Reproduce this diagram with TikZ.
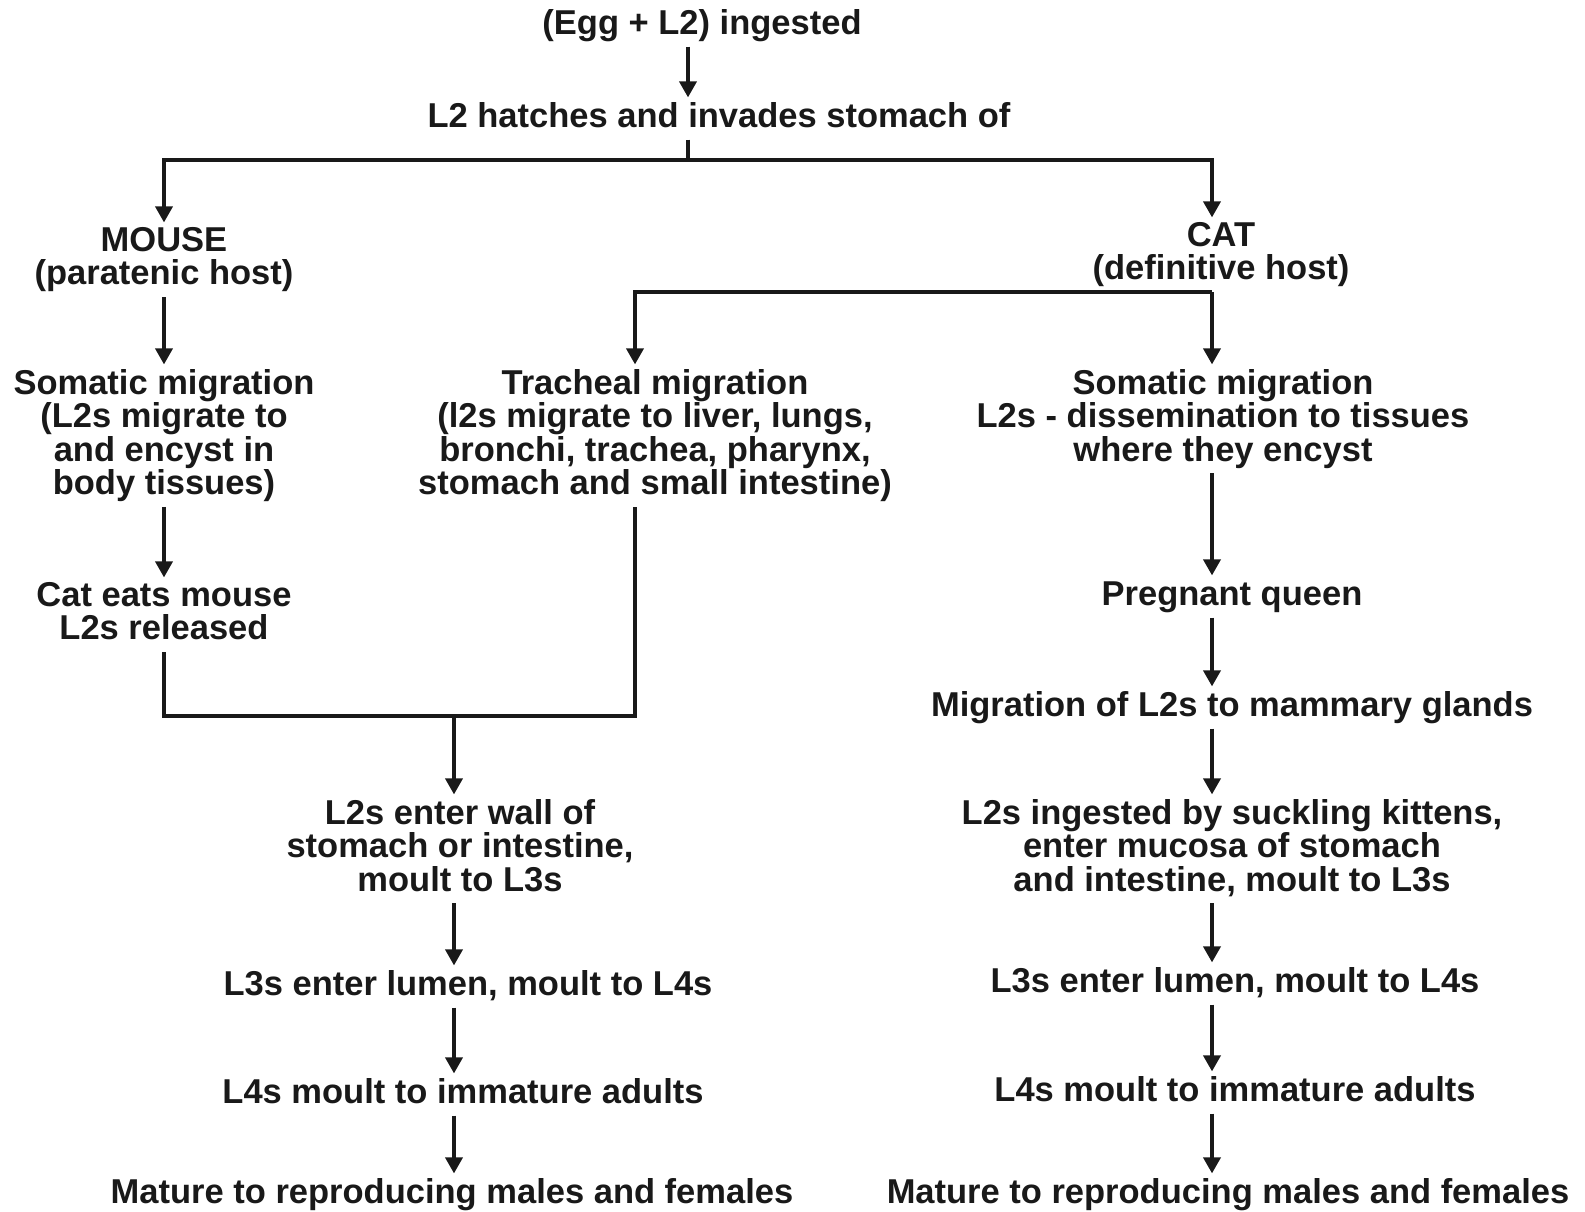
\documentclass[tikz,border=0pt]{standalone}
\usepackage{fontspec}
\setmainfont{Liberation Sans}
\usetikzlibrary{arrows.meta}
\tikzset{
  lbl/.style={align=center, inner sep=0pt, outer sep=5pt, anchor=north,
    font=\fontsize{34.5}{33.4}\selectfont\bfseries, text=black!90,
    execute at begin node={\vphantom{(}}, execute at end node={\vphantom{(}}},
  ln/.style={line width=3.6pt, draw=black!90},
  arr/.style={ln, -{Triangle[width=17pt,length=16pt]}}
}
\begin{document}
\begin{tikzpicture}[x=1pt,y=-1pt]
\useasboundingbox[fill=white] (0,0) rectangle (1585,1211);
% x positions of the vertical connectors
\coordinate (xM) at (688,0);
\coordinate (xL) at (164,0);
\coordinate (xR) at (1212,0);
\coordinate (xT) at (635,0);
\coordinate (xC) at (454,0);
\coordinate (br) at (688,160);
\coordinate (mg) at (454,716);
% nodes
\node[lbl] (egg) at (702,4.4) {(Egg + L2) ingested};
\node[lbl] (hatch) at (719,97.4) {L2 hatches and invades stomach of};
\node[lbl] (mouse) at (164,222.4) {MOUSE\\(paratenic host)};
\node[lbl] (cat) at (1221,217.4) {CAT\\(definitive host)};
\node[lbl] (lsom) at (164,364.4) {Somatic migration\\(L2s migrate to\\and encyst in\\body tissues)};
\node[lbl] (trach) at (655,364.4) {Tracheal migration\\(l2s migrate to liver, lungs,\\bronchi, trachea, pharynx,\\stomach and small intestine)};
\node[lbl] (rsom) at (1223,364.4) {Somatic migration\\L2s - dissemination to tissues\\where they encyst};
\node[lbl] (cem) at (164,577.4) {Cat eats mouse\\L2s released};
\node[lbl] (wall) at (460,794.4) {L2s enter wall of\\stomach or intestine,\\moult to L3s};
\node[lbl] (preg) at (1232,575.4) {Pregnant queen};
\node[lbl] (mam) at (1232,686.4) {Migration of L2s to mammary glands};
\node[lbl] (kit) at (1232,794.4) {L2s ingested by suckling kittens,\\enter mucosa of stomach\\and intestine, moult to L3s};
\node[lbl] (l3L) at (468,965.4) {L3s enter lumen, moult to L4s};
\node[lbl] (l3R) at (1235,962.4) {L3s enter lumen, moult to L4s};
\node[lbl] (l4L) at (463,1073.4) {L4s moult to immature adults};
\node[lbl] (l4R) at (1235,1071.4) {L4s moult to immature adults};
\node[lbl] (matL) at (452,1173.4) {Mature to reproducing males and females};
\node[lbl] (matR) at (1228,1173.4) {Mature to reproducing males and females};
% connectors
\draw[arr] (egg.south -| xM) -- (hatch.north -| xM);
\draw[ln] (hatch.south -| xM) -- (br);
\draw[arr] (br) -| (mouse.north);
\draw[arr] (br) -| (cat.north -| xR);
\draw[arr] (mouse.south) -- (lsom.north);
\draw[arr] (lsom.south) -- (cem.north);
\draw[arr] (cat.south -| xR) -- (rsom.north -| xR);
\draw[arr] (cat.south -| xR) -| (trach.north -| xT);
\draw[ln] (cem.south) |- (mg) -| (trach.south -| xT);
\draw[arr] (mg) -- (wall.north -| xC);
\draw[arr] (wall.south -| xC) -- (l3L.north -| xC);
\draw[arr] (l3L.south -| xC) -- (l4L.north -| xC);
\draw[arr] (l4L.south -| xC) -- (matL.north -| xC);
\draw[arr] (rsom.south -| xR) -- (preg.north -| xR);
\draw[arr] (preg.south -| xR) -- (mam.north -| xR);
\draw[arr] (mam.south -| xR) -- (kit.north -| xR);
\draw[arr] (kit.south -| xR) -- (l3R.north -| xR);
\draw[arr] (l3R.south -| xR) -- (l4R.north -| xR);
\draw[arr] (l4R.south -| xR) -- (matR.north -| xR);
\end{tikzpicture}
\end{document}
